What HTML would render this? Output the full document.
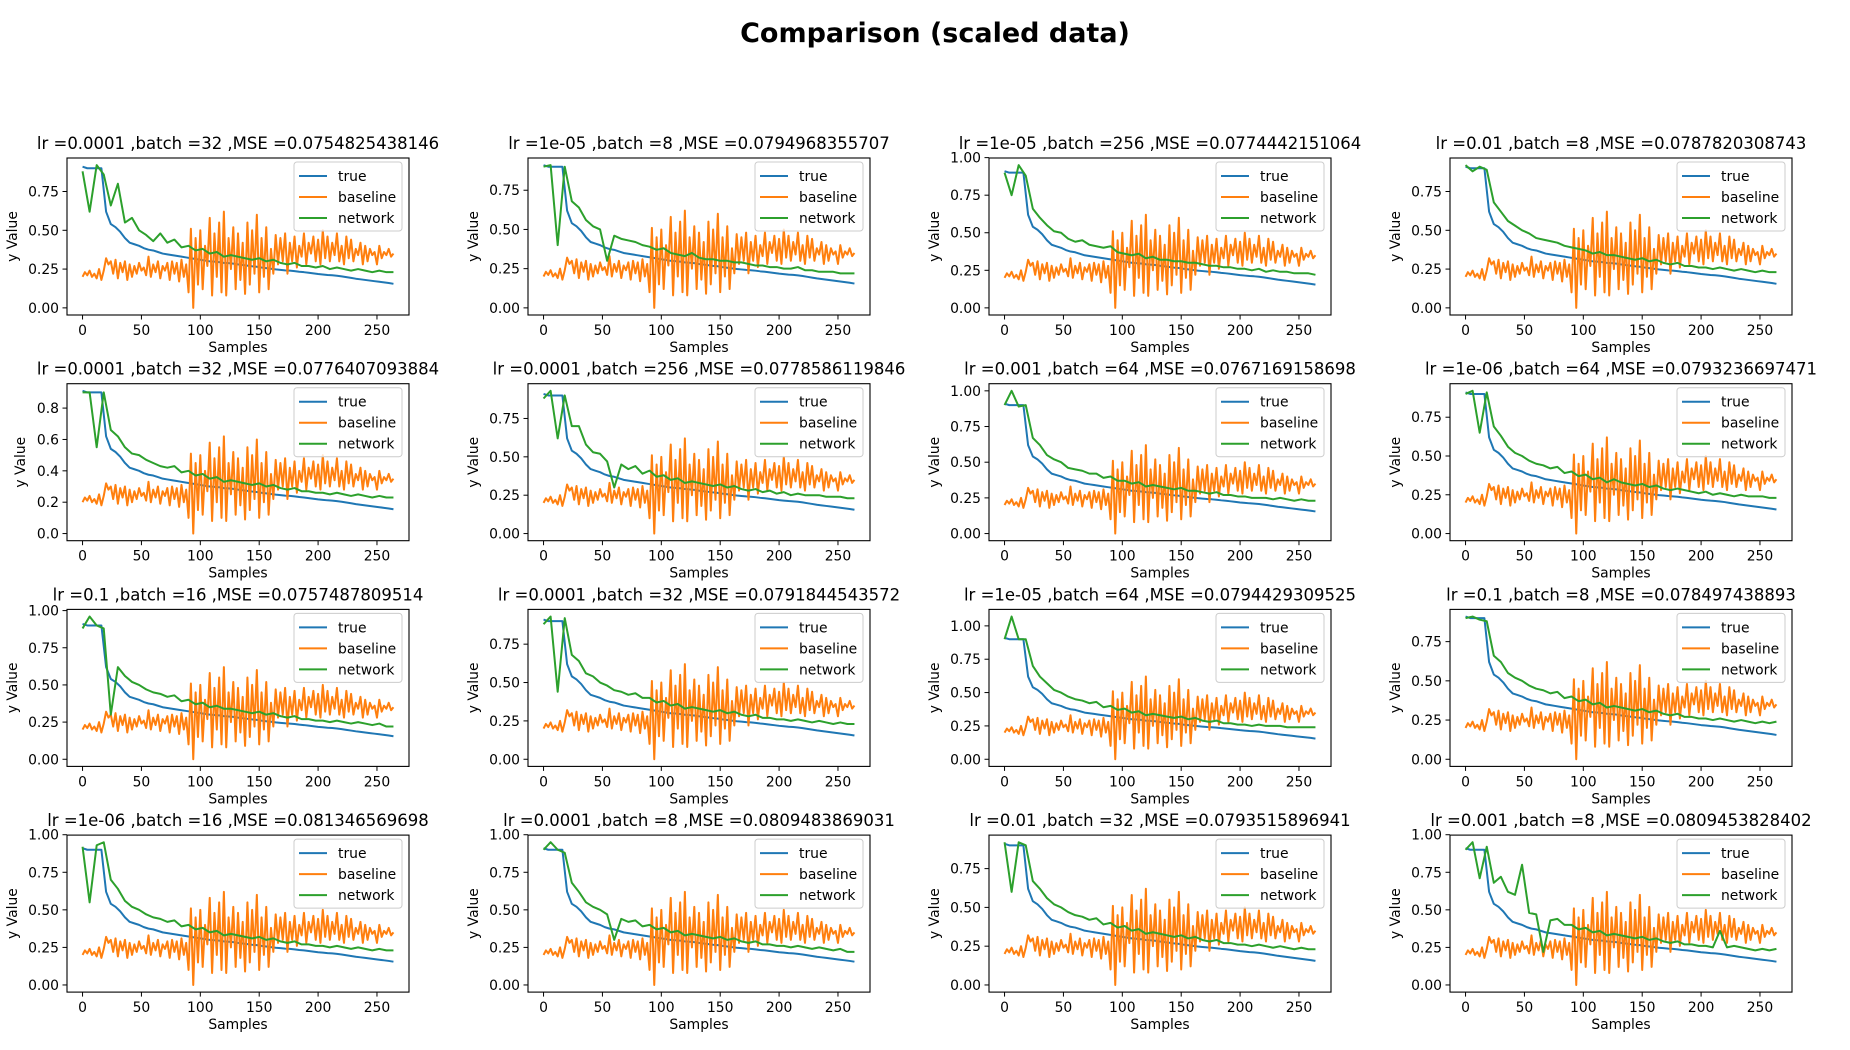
<!DOCTYPE html>
<html><head><meta charset="utf-8"><title>Comparison (scaled data)</title>
<style>
html,body{margin:0;padding:0;background:#fff;}
svg{display:block;font-family:"DejaVu Sans","Liberation Sans",sans-serif;}
</style></head>
<body>
<svg id="fig" width="1850" height="1050" viewBox="0 0 1850 1050" xmlns="http://www.w3.org/2000/svg">
<text x="935" y="42" text-anchor="middle" font-size="27" font-weight="bold" fill="#000">Comparison (scaled data)</text>
</svg>
<script>
// shared data
const trueStep = 4;
const trueValues = [0.91,0.90,0.90,0.90,0.90,0.62,0.54,0.52,0.49,0.45,0.42,0.41,0.40,0.385,0.375,0.37,0.36,0.35,0.345,0.34,0.335,0.33,0.325,0.32,0.315,0.31,0.305,0.30,0.298,0.295,0.29,0.288,0.285,0.28,0.276,0.272,0.268,0.265,0.26,0.256,0.252,0.248,0.245,0.242,0.24,0.237,0.233,0.23,0.226,0.222,0.218,0.215,0.212,0.21,0.207,0.203,0.198,0.193,0.188,0.184,0.18,0.176,0.172,0.168,0.164,0.16,0.155];
const baselineStep = 2;
const baselineValues = [0.20,0.23,0.21,0.24,0.20,0.22,0.19,0.25,0.18,0.24,
0.32,0.28,0.30,0.22,0.31,0.19,0.29,0.23,0.30,0.18,
0.28,0.20,0.27,0.22,0.29,0.24,0.26,0.21,0.33,0.20,
0.28,0.23,0.30,0.19,0.27,0.24,0.29,0.18,0.30,0.22,
0.29,0.17,0.31,0.20,0.28,0.10,0.51,0.00,0.45,0.15,
0.50,0.12,0.40,0.27,0.58,0.08,0.48,0.20,0.55,0.10,
0.62,0.08,0.45,0.25,0.52,0.12,0.48,0.18,0.42,0.09,
0.55,0.15,0.50,0.22,0.60,0.10,0.45,0.20,0.52,0.12,
0.38,0.22,0.47,0.28,0.45,0.30,0.48,0.22,0.42,0.30,
0.46,0.26,0.40,0.33,0.48,0.28,0.42,0.35,0.46,0.30,
0.44,0.28,0.50,0.32,0.46,0.30,0.42,0.34,0.48,0.30,
0.40,0.28,0.46,0.32,0.44,0.30,0.38,0.34,0.42,0.28,
0.40,0.30,0.38,0.34,0.36,0.28,0.40,0.32,0.36,0.34,
0.38,0.33,0.35];
const networkStep = 6;
// per-plot network series (x = 0,6,...,264)
const net1  = [0.88,0.62,0.92,0.86,0.66,0.80,0.55,0.58,0.50,0.47,0.43,0.48,0.42,0.44,0.39,0.40,0.37,0.38,0.35,0.36,0.33,0.34,0.33,0.32,0.31,0.32,0.30,0.31,0.29,0.28,0.29,0.27,0.27,0.26,0.27,0.25,0.26,0.25,0.24,0.25,0.24,0.23,0.24,0.23,0.23];
const net2  = [0.90,0.91,0.40,0.90,0.68,0.64,0.56,0.52,0.50,0.30,0.46,0.44,0.43,0.42,0.40,0.39,0.37,0.38,0.35,0.34,0.33,0.35,0.32,0.31,0.31,0.30,0.30,0.29,0.29,0.28,0.27,0.27,0.26,0.26,0.25,0.25,0.26,0.24,0.24,0.23,0.23,0.23,0.22,0.22,0.22];
const net3  = [0.90,0.75,0.95,0.88,0.66,0.60,0.55,0.51,0.50,0.46,0.44,0.45,0.42,0.41,0.40,0.41,0.37,0.36,0.35,0.36,0.33,0.34,0.32,0.32,0.31,0.31,0.30,0.30,0.29,0.28,0.28,0.27,0.27,0.26,0.26,0.25,0.26,0.24,0.25,0.24,0.24,0.23,0.23,0.23,0.22];
const net4  = [0.92,0.88,0.91,0.89,0.68,0.62,0.56,0.53,0.50,0.48,0.45,0.44,0.43,0.42,0.40,0.39,0.38,0.37,0.35,0.36,0.34,0.34,0.33,0.32,0.31,0.32,0.30,0.31,0.29,0.28,0.29,0.27,0.27,0.26,0.26,0.25,0.26,0.25,0.24,0.25,0.24,0.23,0.24,0.23,0.23];
const net5  = [0.90,0.90,0.55,0.90,0.66,0.62,0.55,0.51,0.50,0.47,0.45,0.43,0.42,0.43,0.39,0.40,0.37,0.38,0.35,0.36,0.33,0.34,0.33,0.32,0.31,0.32,0.30,0.31,0.29,0.28,0.29,0.27,0.27,0.26,0.26,0.25,0.26,0.25,0.24,0.25,0.24,0.23,0.24,0.23,0.23];
const net6  = [0.88,0.93,0.62,0.90,0.70,0.70,0.58,0.53,0.52,0.47,0.30,0.45,0.42,0.44,0.39,0.41,0.37,0.38,0.35,0.36,0.33,0.34,0.33,0.32,0.31,0.32,0.30,0.31,0.29,0.28,0.29,0.27,0.28,0.26,0.27,0.25,0.26,0.25,0.25,0.25,0.24,0.24,0.24,0.23,0.23];
const net7  = [0.90,1.00,0.89,0.90,0.67,0.62,0.55,0.52,0.50,0.46,0.45,0.44,0.42,0.42,0.39,0.40,0.37,0.37,0.35,0.36,0.33,0.34,0.33,0.32,0.31,0.32,0.30,0.30,0.29,0.28,0.29,0.27,0.27,0.26,0.26,0.25,0.25,0.25,0.24,0.25,0.24,0.23,0.24,0.23,0.23];
const net8  = [0.90,0.92,0.65,0.91,0.69,0.63,0.56,0.52,0.50,0.47,0.45,0.44,0.42,0.43,0.39,0.40,0.37,0.38,0.35,0.36,0.33,0.35,0.33,0.32,0.31,0.32,0.30,0.31,0.29,0.28,0.29,0.28,0.27,0.26,0.27,0.25,0.26,0.25,0.24,0.25,0.24,0.24,0.24,0.23,0.23];
const net9  = [0.88,0.96,0.90,0.88,0.30,0.62,0.56,0.52,0.50,0.47,0.45,0.44,0.42,0.43,0.39,0.40,0.37,0.38,0.35,0.36,0.34,0.34,0.33,0.32,0.31,0.32,0.30,0.31,0.29,0.28,0.29,0.27,0.27,0.26,0.26,0.25,0.26,0.25,0.24,0.25,0.24,0.23,0.24,0.22,0.22];
const net10 = [0.88,0.93,0.44,0.92,0.68,0.64,0.56,0.54,0.50,0.48,0.45,0.44,0.42,0.43,0.40,0.40,0.37,0.38,0.35,0.36,0.33,0.34,0.33,0.32,0.31,0.32,0.30,0.31,0.29,0.28,0.29,0.27,0.27,0.26,0.26,0.25,0.26,0.25,0.24,0.25,0.24,0.23,0.24,0.23,0.23];
const net11 = [0.90,1.07,0.90,0.90,0.70,0.62,0.57,0.52,0.50,0.47,0.45,0.44,0.42,0.43,0.39,0.40,0.37,0.38,0.35,0.36,0.33,0.34,0.33,0.32,0.31,0.32,0.30,0.31,0.29,0.28,0.29,0.27,0.27,0.26,0.26,0.25,0.26,0.25,0.25,0.25,0.24,0.24,0.24,0.24,0.24];
const net12 = [0.90,0.91,0.89,0.88,0.66,0.62,0.55,0.52,0.50,0.47,0.45,0.44,0.42,0.43,0.39,0.40,0.37,0.38,0.35,0.36,0.33,0.34,0.33,0.32,0.31,0.32,0.30,0.31,0.29,0.28,0.29,0.27,0.27,0.26,0.26,0.25,0.26,0.25,0.24,0.25,0.24,0.23,0.24,0.23,0.24];
const net13 = [0.92,0.55,0.93,0.95,0.70,0.64,0.56,0.52,0.50,0.47,0.45,0.44,0.42,0.43,0.39,0.40,0.37,0.38,0.35,0.36,0.33,0.34,0.33,0.32,0.31,0.32,0.30,0.31,0.29,0.28,0.29,0.27,0.27,0.26,0.26,0.25,0.26,0.25,0.24,0.25,0.24,0.23,0.24,0.23,0.23];
const net14 = [0.90,0.95,0.90,0.88,0.68,0.62,0.55,0.52,0.50,0.47,0.30,0.44,0.42,0.43,0.39,0.40,0.37,0.38,0.35,0.36,0.33,0.34,0.33,0.32,0.31,0.32,0.30,0.31,0.29,0.28,0.29,0.27,0.27,0.26,0.26,0.25,0.26,0.25,0.24,0.25,0.24,0.23,0.24,0.22,0.22];
const net15 = [0.92,0.60,0.92,0.90,0.67,0.62,0.56,0.52,0.50,0.47,0.45,0.44,0.42,0.43,0.39,0.40,0.37,0.38,0.35,0.36,0.33,0.34,0.33,0.32,0.31,0.32,0.30,0.31,0.29,0.28,0.29,0.27,0.27,0.26,0.26,0.25,0.26,0.25,0.24,0.25,0.24,0.23,0.24,0.23,0.23];
const net16 = [0.90,0.95,0.71,0.92,0.68,0.72,0.62,0.60,0.80,0.48,0.47,0.22,0.43,0.44,0.40,0.40,0.37,0.38,0.35,0.36,0.33,0.34,0.33,0.32,0.31,0.32,0.30,0.31,0.29,0.28,0.29,0.27,0.27,0.26,0.26,0.25,0.36,0.25,0.26,0.25,0.24,0.23,0.24,0.23,0.24];
const networks = [net1,net2,net3,net4,net5,net6,net7,net8,net9,net10,net11,net12,net13,net14,net15,net16];
const titles = ["lr =0.0001 ,batch =32 ,MSE =0.0754825438146","lr =1e-05 ,batch =8 ,MSE =0.0794968355707","lr =1e-05 ,batch =256 ,MSE =0.0774442151064","lr =0.01 ,batch =8 ,MSE =0.0787820308743",
"lr =0.0001 ,batch =32 ,MSE =0.0776407093884","lr =0.0001 ,batch =256 ,MSE =0.0778586119846","lr =0.001 ,batch =64 ,MSE =0.0767169158698","lr =1e-06 ,batch =64 ,MSE =0.0793236697471",
"lr =0.1 ,batch =16 ,MSE =0.0757487809514","lr =0.0001 ,batch =32 ,MSE =0.0791844543572","lr =1e-05 ,batch =64 ,MSE =0.0794429309525","lr =0.1 ,batch =8 ,MSE =0.078497438893",
"lr =1e-06 ,batch =16 ,MSE =0.081346569698","lr =0.0001 ,batch =8 ,MSE =0.0809483869031","lr =0.01 ,batch =32 ,MSE =0.0793515896941","lr =0.001 ,batch =8 ,MSE =0.0809453828402"];
const yTicksA = ["0.00","0.25","0.50","0.75"];
const yTicksB = ["0.00","0.25","0.50","0.75","1.00"];
const yTicksC = ["0.0","0.2","0.4","0.6","0.8"];
const plotTicks = [yTicksA,yTicksA,yTicksB,yTicksA, yTicksC,yTicksA,yTicksB,yTicksA, yTicksB,yTicksA,yTicksB,yTicksA, yTicksB,yTicksB,yTicksA,yTicksB];
const xTicks = [0,50,100,150,200,250];
const legendLabels = ["true","baseline","network"];

const NS = "http://www.w3.org/2000/svg";
const svg = document.getElementById('fig');
const colors = ["#1f77b4","#ff7f0e","#2ca02c"];
function mk(tag, attrs, parent){ const e=document.createElementNS(NS,tag); for(const k in attrs) e.setAttribute(k,attrs[k]); parent.appendChild(e); return e; }

const AX_W=342, AX_H=157, COL0=67, COLD=461, ROW0=158, ROWD=225.7;
const N = 265;
for(let p=0;p<16;p++){
  const r=Math.floor(p/4), c=p%4;
  const L=COL0+c*COLD, T=ROW0+r*ROWD;
  const g=mk('g',{},svg);
  
  
  const net=networks[p];
  let dmax=Math.max(Math.max(...net),Math.max(...trueValues),Math.max(...baselineValues));
  let dmin=Math.min(Math.min(...net),Math.min(...trueValues),Math.min(...baselineValues));
  const yr=dmax-dmin, y0=dmin-0.05*yr, y1=dmax+0.05*yr;
  const x0=-0.05*(N-1), x1=(N-1)*1.05;
  const sx=v=>L+(v-x0)/(x1-x0)*AX_W;
  const sy=v=>T+AX_H-(v-y0)/(y1-y0)*AX_H;
  const t=mk('text',{x:L+AX_W/2,y:T-9,'text-anchor':'middle','font-size':'16.5',fill:'#000'},g);
  t.textContent=titles[p];
  
  
  const cp=mk('clipPath',{id:'cp'+p},g);
  mk('rect',{x:L,y:T,width:AX_W,height:AX_H},cp);
  const series=[[trueValues,trueStep],[baselineValues,baselineStep],[net,networkStep]];
  series.forEach((s,i)=>{
    const pts=s[0].map((v,k)=>sx(k*s[1]).toFixed(2)+','+sy(v).toFixed(2)).join(' ');
    const pl=mk('polyline',{points:pts,fill:'none',stroke:colors[i],'stroke-width':'2','stroke-linejoin':'round','clip-path':'url(#cp'+p+')'},g);
    
    
  });
  const fr=mk('rect',{x:L,y:T,width:AX_W,height:AX_H,fill:'none',stroke:'#000','stroke-width':'1.1'},g);
  
  
  xTicks.forEach(v=>{
    const x=sx(v);
    mk('line',{x1:x,x2:x,y1:T+AX_H,y2:T+AX_H+4.5,stroke:'#000','stroke-width':'1'},g);
    const tl=mk('text',{x:x,y:T+AX_H+20,'text-anchor':'middle','font-size':'13.9',fill:'#000'},g);
    tl.textContent=String(v);
    
    
  });
  plotTicks[p].forEach(lbl=>{
    const v=parseFloat(lbl); const y=sy(v);
    if(y<T-1.5) return;
    mk('line',{x1:L-4.5,x2:L,y1:y,y2:y,stroke:'#000','stroke-width':'1'},g);
    const tl=mk('text',{x:L-8,y:y+5,'text-anchor':'end','font-size':'13.9',fill:'#000'},g);
    tl.textContent=lbl;
    
    
  });
  const xl=mk('text',{x:L+AX_W/2,y:T+AX_H+37,'text-anchor':'middle','font-size':'13.9',fill:'#000'},g);
  xl.textContent='Samples';
  
  
  const labX = (plotTicks[p]===yTicksC)? L-42 : L-50;
  const yl=mk('text',{x:labX,y:T+AX_H/2,'text-anchor':'middle','font-size':'13.9',fill:'#000',transform:'rotate(-90 '+labX+' '+(T+AX_H/2)+')'},g);
  yl.textContent='y Value';
  
  
  const lg=mk('g',{},g);
  
  
  const LX=L+AX_W-115, LY=T+4;
  mk('rect',{x:LX,y:LY,width:108,height:69,rx:3,fill:'#fff','fill-opacity':'0.8',stroke:'#ccc','stroke-width':'1'},lg);
  legendLabels.forEach((lb,i)=>{
    const yy=LY+14+i*21;
    mk('line',{x1:LX+5,x2:LX+33,y1:yy,y2:yy,stroke:colors[i],'stroke-width':'2'},lg);
    const tx=mk('text',{x:LX+44,y:yy+5,'font-size':'13.9',fill:'#000'},lg);
    tx.textContent=lb;
    
    
  });
}
</script>
</body></html>
